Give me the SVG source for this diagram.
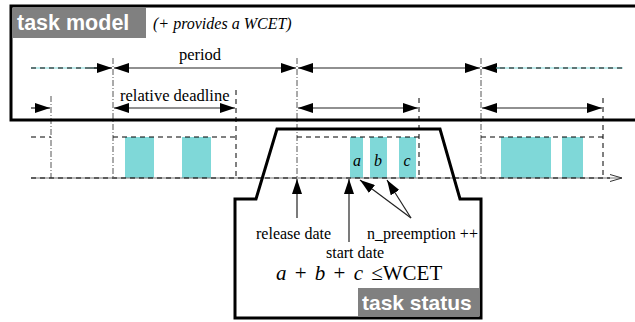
<svg xmlns="http://www.w3.org/2000/svg" width="635" height="322" viewBox="0 0 635 322">
<defs>
<marker id="ah" viewBox="0 0 15 10" refX="15" refY="5" markerWidth="15" markerHeight="10" markerUnits="userSpaceOnUse" orient="auto-start-reverse">
<path d="M0,0 L15,5 L0,10 Z" fill="#000"/>
</marker>
<marker id="open" viewBox="0 0 12 8" refX="12" refY="4" markerWidth="12" markerHeight="8" markerUnits="userSpaceOnUse" orient="auto">
<path d="M0,0.5 L12,4 L0,7.5" fill="none" stroke="#333" stroke-width="1"/>
</marker>
</defs>
<style>
.serif{font-family:"Liberation Serif","Times New Roman",serif;fill:#000}
.lab{font-family:"Liberation Sans",Arial,sans-serif;font-weight:bold;fill:#fff}
.box{fill:none;stroke:#000;stroke-width:3}
.ddot{stroke:#555;stroke-width:1;stroke-dasharray:6,2,1,2;fill:none}
.dash{stroke:#000;stroke-width:1;stroke-dasharray:5,4;fill:none}
.cy{fill:#7fd8d8}
.arr{stroke:#222;stroke-width:1.2;fill:none}
</style>
<rect width="635" height="322" fill="#fff"/>

<g id="bars">
<rect class="cy" x="125" y="137" width="29" height="41"/>
<rect class="cy" x="182" y="137" width="29" height="41"/>
<rect class="cy" x="350" y="137" width="13" height="41"/>
<rect class="cy" x="370" y="137" width="17" height="41"/>
<rect class="cy" x="399" y="137" width="17" height="41"/>
<rect class="cy" x="501" y="137" width="50" height="41"/>
<rect class="cy" x="562" y="137" width="21" height="41"/>
<text class="serif" x="357" y="166" font-size="16" font-style="italic" text-anchor="middle">a</text>
<text class="serif" x="378" y="166" font-size="16" font-style="italic" text-anchor="middle">b</text>
<text class="serif" x="407" y="166" font-size="16" font-style="italic" text-anchor="middle">c</text>
</g>

<g id="guides">
<line class="ddot" x1="51" y1="96" x2="51" y2="178"/>
<line class="ddot" x1="113" y1="58" x2="113" y2="178"/>
<line class="ddot" x1="297" y1="58" x2="297" y2="178"/>
<line class="ddot" x1="481" y1="58" x2="481" y2="178"/>
<line class="dash" x1="236" y1="90" x2="236" y2="178"/>
<line class="dash" x1="419" y1="98" x2="419" y2="178"/>
<line class="dash" x1="603" y1="98" x2="603" y2="178"/>
<line class="dash" x1="31" y1="137" x2="51" y2="137"/>
<line class="dash" x1="113" y1="137" x2="236" y2="137"/>
<line class="dash" x1="297" y1="137" x2="419" y2="137"/>
<line class="dash" x1="481" y1="137" x2="603" y2="137"/>
</g>

<g id="timeline">
<line x1="31" y1="178" x2="622" y2="178" stroke="#777" stroke-width="1.2" marker-end="url(#open)"/>
<line class="dash" x1="31" y1="178" x2="610" y2="178"/>
</g>

<g id="task-model">
<rect class="box" x="11" y="6" width="640" height="114"/>
<rect x="12" y="8" width="134" height="30" fill="#808080"/>
<text class="lab" x="17" y="30" font-size="21.5">task model</text>
<text class="serif" x="153" y="29" font-size="16" font-style="italic">(+ provides a WCET)</text>
<text class="serif" x="200" y="60" font-size="16.5" text-anchor="middle">period</text>
<text class="serif" x="120" y="101" font-size="16.5">relative deadline</text>
</g>

<g id="connectors">
<line x1="31" y1="68" x2="97" y2="68" stroke="#7fd8d8" stroke-width="1.2"/>
<line class="dash" x1="31" y1="68" x2="97" y2="68"/>
<line class="arr" x1="90" y1="68" x2="112" y2="68" marker-end="url(#ah)"/>
<line class="arr" x1="114" y1="68" x2="296" y2="68" marker-start="url(#ah)" marker-end="url(#ah)"/>
<line class="arr" x1="298" y1="68" x2="480" y2="68" marker-start="url(#ah)" marker-end="url(#ah)"/>
<line class="arr" x1="482" y1="68" x2="500" y2="68" marker-start="url(#ah)"/>
<line x1="496" y1="68" x2="623" y2="68" stroke="#7fd8d8" stroke-width="1.2"/>
<line class="dash" x1="500" y1="68" x2="623" y2="68"/>
<line class="arr" x1="31" y1="108" x2="50" y2="108" marker-end="url(#ah)"/>
<line class="arr" x1="114" y1="108" x2="235" y2="108" marker-start="url(#ah)" marker-end="url(#ah)"/>
<line class="arr" x1="298" y1="108" x2="418" y2="108" marker-start="url(#ah)" marker-end="url(#ah)"/>
<line class="arr" x1="482" y1="108" x2="602" y2="108" marker-start="url(#ah)" marker-end="url(#ah)"/>
<line class="arr" x1="297" y1="218" x2="297" y2="179" marker-end="url(#ah)"/>
<line class="arr" x1="349" y1="242" x2="349" y2="179" marker-end="url(#ah)"/>
<line class="arr" x1="411" y1="218" x2="360" y2="180" marker-end="url(#ah)"/>
<line class="arr" x1="411" y1="218" x2="387" y2="180" marker-end="url(#ah)"/>
</g>

<g id="task-status">
<polygon class="box" points="235,199 256,199 277,129 440,129 460,199 481,199 481,318 235,318"/>
<rect x="358" y="288" width="121" height="28" fill="#808080"/>
<text class="lab" x="362" y="310" font-size="21">task status</text>
<text class="serif" x="256" y="239" font-size="16">release date</text>
<text class="serif" x="326" y="258" font-size="16">start date</text>
<text class="serif" x="367" y="239" font-size="16">n_preemption ++</text>
<text class="serif" x="276" y="280" font-size="21" word-spacing="3"><tspan font-style="italic">a</tspan> + <tspan font-style="italic">b</tspan> + <tspan font-style="italic">c</tspan> ≤WCET</text>
</g>
</svg>
